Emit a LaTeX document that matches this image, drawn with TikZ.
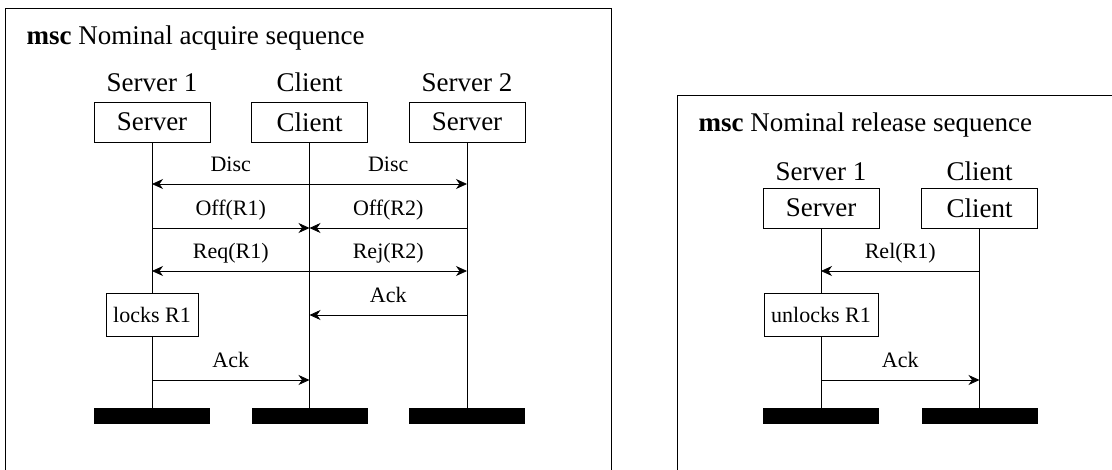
\documentclass[tikz,border=0pt]{standalone}
\usepackage{fontspec}
\setmainfont{Liberation Serif}
\usetikzlibrary{arrows.meta}
\begin{document}
\begin{tikzpicture}[x=1pt,y=-1pt,
  frame/.style={draw,line width=1pt},
  inst/.style={draw,line width=0.8pt,minimum width=116pt,minimum height=40pt,inner sep=0pt,font=\fontsize{27}{30}\selectfont},
  bar/.style={fill=black,minimum width=116pt,minimum height=16pt,inner sep=0pt},
  life/.style={line width=0.8pt},
  msg/.style={line width=0.8pt,-{Stealth[length=11pt,width=10pt,inset=3.5pt]}},
  lbl/.style={font=\fontsize{22}{26}\selectfont,anchor=base,yshift=13pt},
  big/.style={font=\fontsize{27}{30}\selectfont,anchor=base},
  act/.style={draw,line width=0.8pt,minimum height=43pt,inner sep=3pt,font=\fontsize{22}{26}\selectfont}
]
\useasboundingbox (0,0) rectangle (1112,469);
\clip (0,0) rectangle (1112,469);

% ---------- left frame ----------
\draw[frame] (5,490) -- (5,8) -- (611,8) -- (611,490);
\node[big,anchor=base west] (t1) at (23,44) {\textbf{msc} Nominal acquire sequence};

\node[big] (l1) at (152,91) {Server 1};
\node[big] (l2) at (309.5,91) {Client};
\node[big] (l3) at (467,91) {Server 2};

\node[inst] (s1) at (152,122) {Server};
\node[inst] (c) at (309.5,122) {Client};
\node[inst] (s2) at (467,122) {Server};

\node[act,minimum width=92pt] (a1) at (152,314.5) {locks R1};

\node[bar] (e1) at (152,416) {};
\node[bar] (ec) at (309.5,416) {};
\node[bar] (e2) at (467,416) {};

\draw[life] (s1) -- (a1);
\draw[life] (a1) -- (e1);
\draw[life] (c) -- (ec);
\draw[life] (s2) -- (e2);

\coordinate (r1) at (0,184);
\coordinate (r2) at (0,228);
\coordinate (r3) at (0,271);
\coordinate (r4) at (0,315);
\coordinate (r5) at (0,380);

\draw[msg] (c|-r1) -- (s1|-r1) node[lbl,midway] {Disc};
\draw[msg] (c|-r1) -- (s2|-r1) node[lbl,midway] {Disc};
\draw[msg] (s1|-r2) -- (c|-r2) node[lbl,midway] {Off(R1)};
\draw[msg] (s2|-r2) -- (c|-r2) node[lbl,midway] {Off(R2)};
\draw[msg] (c|-r3) -- (s1|-r3) node[lbl,midway] {Req(R1)};
\draw[msg] (c|-r3) -- (s2|-r3) node[lbl,midway] {Rej(R2)};
\draw[msg] (s2|-r4) -- (c|-r4) node[lbl,midway] {Ack};
\draw[msg] (s1|-r5) -- (c|-r5) node[lbl,midway] {Ack};

% ---------- right frame ----------
\draw[frame] (677,490) -- (677,95) -- (1130,95);
\node[big,anchor=base west] (t2) at (695,131) {\textbf{msc} Nominal release sequence};

\node[big] (m1) at (821,180) {Server 1};
\node[big] (m2) at (979.5,180) {Client};

\node[inst] (rs) at (821,208) {Server};
\node[inst] (rc) at (979.5,208) {Client};

\node[act,minimum width=114pt] (u1) at (821,314.5) {unlocks R1};

\node[bar] (f1) at (821,416) {};
\node[bar] (f2) at (979.5,416) {};

\draw[life] (rs) -- (u1);
\draw[life] (u1) -- (f1);
\draw[life] (rc) -- (f2);

\draw[msg] (rc|-r3) -- (rs|-r3) node[lbl,midway] {Rel(R1)};
\draw[msg] (rs|-r5) -- (rc|-r5) node[lbl,midway] {Ack};
\end{tikzpicture}
\end{document}
